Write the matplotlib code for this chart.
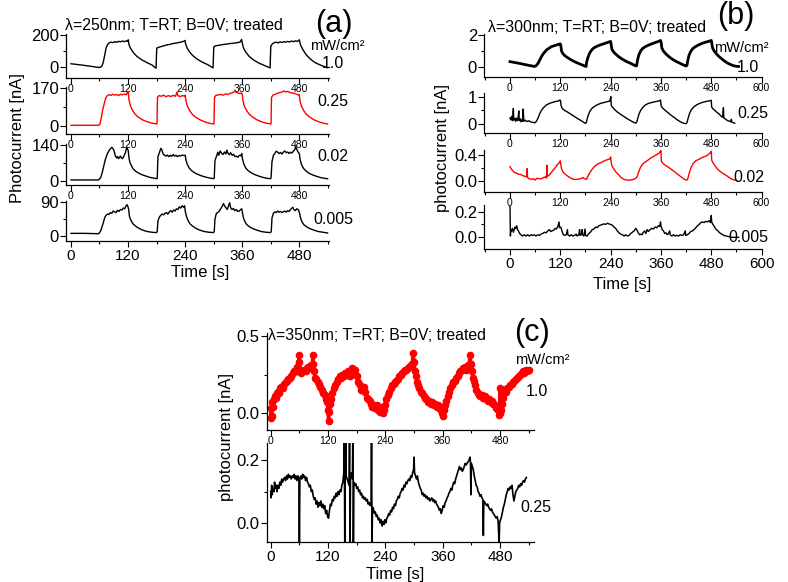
import matplotlib
matplotlib.use("Agg")
import matplotlib.pyplot as plt
from matplotlib.ticker import MultipleLocator, FormatStrFormatter

plt.rcParams["font.family"] = ["Liberation Sans", "DejaVu Sans"]

W, H = 788, 582
RED = "#ff0000"

# (time [s], photocurrent) samples, one list per intensity
A_250_1p0 = [(0, 20), (20, 13), (40, 5), (58, -3), (62, -2), (65, 5), (68, 30), (71, 75), (74, 120), (77, 140),
             (80, 150), (84, 155), (88, 152), (92, 158), (96, 154), (100, 160), (104, 157), (108, 162), (112, 158),
             (116, 163), (119, 160), (120.5, 170), (122, 140), (125, 118), (130, 95), (135, 77), (140, 63),
             (150, 43), (160, 27), (170, 13), (179, -8), (180.5, 118), (184, 122), (190, 128), (196, 133),
             (202, 138), (208, 141), (214, 146), (220, 149), (226, 152), (232, 156), (237, 160), (240, 166),
             (241.5, 140), (245, 115), (250, 92), (256, 72), (264, 52), (275, 32), (288, 14), (299, -6),
             (300.5, 125), (304, 132), (310, 135), (316, 138), (322, 141), (328, 143), (334, 146), (340, 148),
             (346, 150), (352, 153), (356, 156), (359, 172), (360.5, 150), (363, 118), (368, 92), (375, 66),
             (385, 42), (395, 25), (408, 8), (419, -6), (420.5, 130), (424, 145), (428, 152), (432, 155),
             (436, 150), (440, 157), (444, 153), (448, 158), (452, 155), (456, 160), (460, 156), (464, 162),
             (468, 158), (472, 163), (476, 160), (479, 165), (480.5, 170), (483, 138), (488, 108), (495, 76),
             (505, 46), (515, 25), (528, 8), (540, -5)]

A_250_0p25 = [(0, 3), (30, 3), (58, 3), (61, 8), (64, 40), (67, 75), (70, 100), (73, 125), (76, 135), (80, 140),
              (84, 137), (88, 142), (92, 138), (96, 141), (100, 136), (104, 142), (108, 139), (112, 143),
              (116, 140), (119, 150), (120.5, 152), (122, 118), (125, 90), (130, 68), (135, 53), (140, 42),
              (150, 28), (160, 19), (170, 13), (180, 9), (181, 10), (182, 128), (185, 136), (190, 133),
              (195, 138), (200, 131), (205, 136), (210, 132), (215, 137), (220, 133), (223, 152), (225, 135),
              (230, 132), (235, 136), (239, 133), (240.5, 138), (242, 112), (245, 88), (250, 68), (255, 53),
              (262, 40), (272, 27), (282, 18), (292, 12), (300, 9), (301, 10), (302, 128), (305, 137), (310, 139),
              (315, 141), (320, 138), (325, 143), (330, 141), (335, 146), (340, 149), (345, 156), (348, 150),
              (352, 147), (356, 145), (359, 148), (360.5, 140), (362, 112), (365, 88), (370, 68), (375, 53),
              (382, 40), (392, 27), (402, 18), (412, 12), (420, 9), (421, 10), (422, 128), (425, 138), (430, 142),
              (435, 147), (440, 150), (445, 153), (448, 157), (452, 152), (456, 155), (460, 150), (465, 148),
              (470, 146), (475, 142), (479, 139), (480.5, 140), (482, 112), (485, 88), (490, 68), (495, 53),
              (502, 40), (512, 27), (522, 18), (532, 12), (540, 9)]

A_250_0p02 = [(0, 4), (30, 4), (58, 4), (62, 12), (65, 27), (68, 50), (70, 67), (72, 82), (74, 93), (77, 108),
              (80, 118), (83, 126), (86, 131), (88, 127), (90, 120), (92, 108), (94, 95), (96, 90), (98, 95),
              (100, 87), (102, 92), (104, 97), (106, 90), (108, 87), (110, 92), (112, 100), (114, 108), (116, 122),
              (117.5, 131), (119, 125), (120.5, 118), (122, 90), (124, 73), (127, 60), (131, 47), (136, 38),
              (142, 31), (150, 24), (158, 19), (166, 14), (174, 11), (180, 9), (181.5, 10), (183, 95), (186, 110),
              (189, 127), (191, 122), (194, 105), (197, 100), (200, 97), (203, 101), (206, 95), (209, 100),
              (212, 96), (215, 103), (218, 97), (221, 100), (224, 95), (227, 99), (230, 97), (234, 101), (238, 99),
              (240.5, 100), (242, 80), (245, 64), (249, 50), (254, 40), (261, 31), (269, 24), (278, 18), (288, 13),
              (296, 10), (300, 9), (301.5, 12), (303, 80), (306, 95), (309, 112), (311, 100), (314, 117),
              (317, 108), (320, 103), (323, 113), (326, 105), (328, 120), (330, 110), (333, 102), (336, 110),
              (339, 100), (342, 104), (345, 95), (348, 97), (351, 92), (354, 100), (357, 98), (359.5, 107),
              (361, 85), (364, 65), (368, 50), (373, 40), (380, 31), (388, 24), (397, 18), (406, 13), (414, 10),
              (420, 9), (421, 12), (423, 75), (426, 100), (429, 107), (432, 116), (435, 112), (438, 107),
              (441, 111), (444, 105), (447, 113), (450, 117), (453, 110), (456, 113), (459, 107), (462, 112),
              (465, 109), (468, 116), (471, 122), (473, 133), (475, 125), (477, 115), (479, 110), (480.5, 107),
              (482, 85), (485, 65), (489, 50), (494, 40), (500, 31), (508, 24), (517, 18), (526, 13), (535, 10),
              (540, 9)]

A_250_0p005 = [(0, 7), (30, 7), (58, 6), (62, 12), (65, 23), (68, 35), (71, 49), (74, 55), (77, 58), (80, 57),
               (83, 62), (86, 60), (89, 66), (92, 64), (95, 62), (98, 68), (101, 65), (104, 70), (107, 69),
               (110, 74), (113, 72), (116, 80), (118, 83), (120, 77), (121.5, 70), (123, 52), (126, 42), (130, 33),
               (135, 27), (142, 21), (150, 16), (160, 12), (170, 10), (180, 9), (181.5, 12), (183, 40), (186, 50),
               (189, 55), (192, 58), (195, 56), (198, 60), (201, 62), (204, 58), (207, 64), (210, 67), (213, 63),
               (216, 69), (219, 66), (222, 72), (225, 70), (228, 77), (231, 74), (234, 80), (237, 76), (239, 80),
               (241, 62), (243, 52), (246, 42), (250, 33), (255, 27), (262, 21), (270, 16), (280, 12), (290, 10),
               (300, 9), (301.5, 12), (303, 45), (306, 60), (309, 62), (312, 66), (315, 72), (318, 78), (321, 86),
               (323, 80), (326, 75), (329, 70), (332, 82), (334, 88), (336, 75), (339, 70), (342, 73), (345, 67),
               (348, 70), (351, 65), (354, 66), (357, 70), (359.5, 72), (361, 60), (363, 48), (366, 38), (370, 30),
               (375, 25), (382, 20), (390, 16), (400, 12), (410, 10), (420, 9), (421.5, 12), (423, 48), (426, 60),
               (429, 64), (432, 62), (435, 66), (438, 63), (441, 65), (444, 62), (447, 64), (450, 66), (453, 63),
               (456, 67), (459, 65), (462, 70), (465, 74), (467, 76), (469, 70), (472, 67), (475, 72), (478, 70),
               (480, 65), (481.5, 58), (483, 48), (486, 38), (490, 30), (495, 25), (502, 20), (510, 16), (520, 12),
               (530, 10), (540, 8)]

B_300_1p0 = [(0, 0.35), (15, 0.28), (30, 0.20), (45, 0.12), (59, 0.05), (63, 0.12), (67, 0.25), (71, 0.45),
             (75, 0.66), (80, 0.86), (87, 1.07), (93, 1.18), (99, 1.28), (105, 1.33), (111, 1.38), (117, 1.43),
             (120, 1.45), (121, 1.38), (123, 1.0), (126, 0.85), (130, 0.74), (135, 0.64), (142, 0.52), (150, 0.40),
             (158, 0.30), (166, 0.21), (173, 0.14), (180, 0.06), (181.5, 0.05), (183, 0.35), (186, 0.62),
             (190, 0.88), (195, 1.08), (201, 1.22), (209, 1.32), (217, 1.40), (225, 1.47), (233, 1.54),
             (240, 1.60), (241, 1.45), (243, 1.12), (247, 0.95), (252, 0.82), (258, 0.68), (265, 0.55),
             (272, 0.44), (280, 0.33), (288, 0.24), (295, 0.15), (300, 0.08), (302, 0.10), (304, 0.42),
             (307, 0.75), (311, 0.98), (316, 1.16), (323, 1.28), (331, 1.38), (339, 1.46), (347, 1.54),
             (354, 1.60), (359, 1.66), (360.5, 1.55), (362, 1.20), (366, 1.00), (371, 0.85), (377, 0.70),
             (384, 0.56), (391, 0.44), (398, 0.34), (406, 0.24), (413, 0.15), (420, 0.08), (422, 0.12),
             (424, 0.42), (427, 0.75), (431, 0.98), (436, 1.16), (443, 1.29), (450, 1.39), (458, 1.48),
             (466, 1.55), (473, 1.60), (480, 1.66), (481, 1.55), (483, 1.20), (487, 1.00), (492, 0.84),
             (498, 0.68), (505, 0.52), (512, 0.38), (519, 0.26), (526, 0.17), (533, 0.10), (540, 0.06),
             (545, 0.05)]

B_300_0p25 = [(0, 0.22), (2, 0.15), (4, 0.28), (6, 0.12), (8, 0.57), (9, 0.15), (11, 0.20), (13, 0.10),
              (15, 0.22), (17, 0.12), (19, 0.18), (21, 0.48), (22, 0.12), (24, 0.20), (26, 0.08), (28, 0.16),
              (30, 0.10), (31.5, 0.55), (33, 0.10), (36, 0.14), (40, 0.09), (45, 0.12), (50, 0.07), (55, 0.06),
              (59, 0.04), (63, 0.10), (67, 0.22), (71, 0.38), (75, 0.50), (80, 0.60), (87, 0.70), (95, 0.76),
              (103, 0.80), (110, 0.83), (116, 0.84), (119, 0.88), (120.5, 0.86), (122, 0.66), (125, 0.56),
              (130, 0.50), (138, 0.43), (146, 0.35), (154, 0.27), (162, 0.19), (170, 0.12), (176, 0.06),
              (180, 0.02), (182, 0.05), (184, 0.18), (187, 0.34), (191, 0.48), (196, 0.58), (201, 0.64),
              (209, 0.71), (217, 0.76), (225, 0.79), (233, 0.82), (238, 0.84), (240.5, 1.0), (241.5, 0.68),
              (244, 0.62), (250, 0.52), (256, 0.44), (264, 0.35), (272, 0.27), (280, 0.19), (288, 0.12),
              (295, 0.06), (300, 0.03), (302, 0.06), (305, 0.22), (308, 0.38), (312, 0.51), (317, 0.61),
              (323, 0.70), (331, 0.76), (339, 0.79), (347, 0.82), (355, 0.84), (359, 0.88), (360.5, 0.66),
              (363, 0.60), (370, 0.50), (378, 0.40), (386, 0.30), (394, 0.21), (402, 0.12), (410, 0.05),
              (416, 0.02), (420, 0.01), (422, 0.05), (425, 0.22), (428, 0.38), (432, 0.51), (438, 0.62),
              (445, 0.70), (453, 0.76), (461, 0.80), (469, 0.83), (477, 0.85), (480, 0.87), (481, 0.62),
              (484, 0.56), (489, 0.49), (494, 0.42), (499, 0.36), (504, 0.28), (507, 0.25), (509, 0.60),
              (510, 0.22), (514, 0.18), (518, 0.13), (522, 0.11), (526, 0.08), (528, 0.17), (529, 0.07),
              (532, 0.05), (536, 0.03)]

B_300_0p02 = [(0, 0.22), (3, 0.18), (6, 0.16), (10, 0.13), (15, 0.12), (20, 0.10), (25, 0.10), (30, 0.08),
              (35, 0.07), (40, 0.06), (41, 0.19), (42, 0.05), (46, 0.03), (51, 0.02), (56, 0.03), (60, 0.01),
              (65, 0.04), (70, 0.03), (75, 0.03), (80, 0.05), (85, 0.06), (87, 0.04), (88, 0.24), (89, 0.07),
              (92, 0.08), (95, 0.10), (100, 0.14), (105, 0.18), (110, 0.22), (114, 0.26), (118, 0.28), (120, 0.31),
              (121, 0.26), (123, 0.18), (127, 0.13), (132, 0.10), (138, 0.07), (145, 0.04), (152, 0.02),
              (160, 0.02), (168, 0.03), (174, 0.05), (178, 0.03), (182, 0.02), (186, 0.07), (190, 0.12),
              (195, 0.17), (201, 0.22), (209, 0.26), (217, 0.28), (225, 0.31), (233, 0.33), (238, 0.34),
              (240, 0.37), (241, 0.30), (243, 0.23), (247, 0.19), (252, 0.14), (258, 0.10), (265, 0.05),
              (272, 0.02), (280, 0.01), (288, 0.01), (295, 0.02), (300, 0.04), (303, 0.06), (306, 0.12),
              (310, 0.19), (315, 0.25), (320, 0.28), (327, 0.31), (335, 0.35), (343, 0.38), (351, 0.41),
              (356, 0.43), (359, 0.46), (360, 0.47), (361, 0.30), (365, 0.27), (370, 0.24), (378, 0.21),
              (386, 0.17), (394, 0.13), (402, 0.09), (410, 0.05), (416, 0.02), (422, 0.01), (424, 0.03),
              (428, 0.13), (432, 0.21), (437, 0.27), (443, 0.31), (450, 0.33), (458, 0.36), (466, 0.38),
              (472, 0.40), (477, 0.43), (480, 0.46), (481, 0.32), (484, 0.28), (489, 0.23), (495, 0.18),
              (502, 0.14), (509, 0.11), (516, 0.08), (523, 0.05), (530, 0.02), (537, 0.01), (542, 0.0)]

B_300_0p005 = [(0, 0.24), (1, 0.01), (2, 0.06), (4, 0.05), (6, 0.07), (8, 0.04), (10, 0.06), (12, 0.08),
               (14, 0.07), (16, 0.09), (18, 0.06), (20, 0.05), (23, 0.03), (26, 0.02), (30, 0.01), (34, 0.02),
               (38, 0.01), (42, 0.02), (46, 0.01), (50, 0.02), (54, 0.015), (58, 0.02), (62, 0.01), (66, 0.02),
               (70, 0.015), (74, 0.025), (78, 0.03), (82, 0.04), (86, 0.035), (90, 0.05), (94, 0.06), (97, 0.045),
               (100, 0.05), (104, 0.055), (108, 0.07), (111, 0.065), (114, 0.085), (117, 0.12), (118, 0.075),
               (121, 0.08), (124, 0.05), (127, 0.02), (130, 0.015), (134, 0.02), (137, 0.06), (138, 0.02),
               (142, 0.01), (146, 0.02), (150, 0.01), (154, 0.015), (158, 0.025), (160, 0.01), (164, 0.02),
               (166, 0.06), (167, 0.015), (170, 0.02), (172, 0.06), (173, 0.02), (176, 0.01), (179, 0.065),
               (180, 0.015), (184, 0.01), (188, 0.03), (192, 0.04), (196, 0.06), (200, 0.065), (204, 0.08),
               (208, 0.075), (212, 0.09), (216, 0.095), (220, 0.1), (224, 0.105), (228, 0.1), (232, 0.11),
               (236, 0.105), (240, 0.1), (244, 0.095), (248, 0.08), (252, 0.07), (256, 0.05), (260, 0.035),
               (264, 0.025), (268, 0.02), (272, 0.01), (276, 0.02), (280, 0.01), (284, 0.015), (288, 0.03),
               (292, 0.04), (296, 0.05), (300, 0.07), (303, 0.055), (306, 0.035), (309, 0.02), (312, 0.025),
               (315, 0.02), (318, 0.04), (321, 0.05), (324, 0.03), (327, 0.06), (330, 0.045), (334, 0.06),
               (338, 0.07), (342, 0.065), (346, 0.08), (350, 0.075), (354, 0.09), (357, 0.085), (359, 0.12),
               (360, 0.09), (363, 0.06), (366, 0.05), (369, 0.03), (372, 0.035), (375, 0.02), (378, 0.03),
               (381, 0.05), (382, 0.02), (386, 0.01), (390, 0.02), (394, 0.01), (398, 0.015), (402, 0.01),
               (406, 0.02), (410, 0.015), (414, 0.02), (418, 0.05), (419, 0.015), (423, 0.02), (427, 0.03),
               (431, 0.045), (435, 0.05), (439, 0.06), (443, 0.075), (447, 0.09), (451, 0.1), (455, 0.115),
               (459, 0.12), (463, 0.115), (467, 0.125), (471, 0.12), (475, 0.13), (478, 0.115), (480, 0.17),
               (481, 0.12), (484, 0.1), (488, 0.08), (492, 0.06), (496, 0.05), (500, 0.035), (505, 0.025),
               (510, 0.015), (516, 0.01), (522, 0.005), (530, 0.0), (538, 0.0), (545, 0.0)]

C_350_1p0 = [(0, -0.03), (1, 0.03), (2, -0.02), (3, 0.07), (5, 0.04), (7, 0.09), (9, 0.11), (11, 0.10), (13, 0.13),
             (15, 0.14), (17, 0.13), (19, 0.16), (22, 0.17), (25, 0.16), (28, 0.19), (31, 0.20), (34, 0.21),
             (37, 0.22), (40, 0.23), (43, 0.24), (46, 0.26), (49, 0.27), (52, 0.28), (54, 0.27), (56, 0.30),
             (58, 0.29), (59, 0.38), (60, 0.33), (62, 0.28), (64, 0.26), (67, 0.27), (70, 0.28), (73, 0.27),
             (76, 0.29), (79, 0.30), (82, 0.29), (85, 0.31), (87, 0.30), (88, 0.38), (89, 0.32), (91, 0.27),
             (93, 0.23), (95, 0.22), (98, 0.20), (101, 0.19), (104, 0.17), (107, 0.15), (110, 0.13), (113, 0.12),
             (116, 0.09), (118, 0.07), (120, 0.02), (121, -0.05), (122, 0.01), (124, 0.06), (126, 0.09),
             (129, 0.13), (132, 0.16), (135, 0.18), (138, 0.20), (141, 0.22), (144, 0.24), (147, 0.23),
             (150, 0.25), (153, 0.24), (156, 0.26), (159, 0.25), (162, 0.27), (165, 0.24), (168, 0.27),
             (171, 0.29), (174, 0.26), (177, 0.28), (180, 0.24), (183, 0.20), (186, 0.18), (189, 0.15),
             (192, 0.16), (195, 0.17), (198, 0.14), (201, 0.10), (204, 0.09), (207, 0.08), (210, 0.06),
             (213, 0.04), (216, 0.05), (219, 0.03), (222, 0.05), (225, 0.02), (228, 0.01), (231, 0.03),
             (234, 0.00), (236, 0.04), (238, 0.02), (240, 0.05), (242, 0.09), (245, 0.12), (248, 0.14),
             (251, 0.16), (254, 0.18), (257, 0.19), (260, 0.20), (263, 0.21), (266, 0.22), (269, 0.24),
             (272, 0.25), (275, 0.26), (278, 0.27), (281, 0.28), (284, 0.28), (287, 0.29), (290, 0.30),
             (293, 0.31), (296, 0.32), (298, 0.39), (300, 0.33), (302, 0.27), (304, 0.24), (306, 0.20),
             (308, 0.18), (311, 0.16), (314, 0.14), (317, 0.13), (320, 0.11), (323, 0.10), (326, 0.09),
             (329, 0.07), (332, 0.08), (335, 0.06), (338, 0.07), (341, 0.05), (344, 0.06), (347, 0.04),
             (350, 0.05), (353, 0.03), (356, 0.02), (358, 0.00), (360, -0.02), (362, 0.02), (364, 0.05),
             (367, 0.08), (370, 0.11), (373, 0.14), (376, 0.16), (379, 0.18), (382, 0.20), (385, 0.21),
             (388, 0.23), (391, 0.24), (394, 0.26), (397, 0.27), (400, 0.28), (403, 0.29), (406, 0.30),
             (409, 0.28), (412, 0.31), (415, 0.30), (417, 0.38), (419, 0.32), (421, 0.27), (423, 0.23),
             (425, 0.21), (427, 0.18), (430, 0.15), (433, 0.13), (436, 0.12), (439, 0.11), (442, 0.12),
             (445, 0.10), (448, 0.11), (451, 0.09), (454, 0.08), (457, 0.09), (460, 0.07), (463, 0.08),
             (466, 0.06), (469, 0.05), (472, 0.03), (475, 0.02), (477, -0.01), (479, 0.00), (480, 0.16),
             (481, 0.02), (483, 0.06), (486, 0.10), (489, 0.13), (492, 0.14), (495, 0.16), (498, 0.17),
             (501, 0.18), (504, 0.19), (507, 0.20), (510, 0.21), (513, 0.22), (516, 0.23), (519, 0.24),
             (522, 0.25), (525, 0.26), (528, 0.27), (531, 0.26), (534, 0.28), (537, 0.27), (540, 0.28)]

C_350_0p25 = [(0, 0.10), (1, 0.08), (2, 0.12), (3, 0.09), (5, 0.11), (7, 0.10), (8, 0.13), (10, 0.11), (12, 0.12),
              (13, 0.10), (15, 0.12), (17, 0.11), (19, 0.13), (21, 0.12), (23, 0.14), (25, 0.13), (27, 0.14),
              (29, 0.145), (31, 0.135), (33, 0.15), (35, 0.14), (37, 0.155), (39, 0.145), (41, 0.15), (43, 0.14),
              (45, 0.15), (47, 0.145), (49, 0.155), (51, 0.14), (53, 0.15), (55, 0.135), (57, 0.15), (59, 0.14),
              (60, -0.07), (61, 0.14), (63, 0.15), (65, 0.14), (67, 0.155), (69, 0.145), (71, 0.15), (73, 0.135),
              (75, 0.145), (77, 0.13), (79, 0.125), (81, 0.115), (83, 0.12), (85, 0.10), (87, 0.105), (89, 0.085),
              (91, 0.075), (93, 0.08), (95, 0.06), (97, 0.07), (99, 0.05), (101, 0.065), (103, 0.055), (105, 0.07),
              (107, 0.05), (109, 0.06), (111, 0.045), (113, 0.055), (115, 0.03), (117, 0.04), (119, 0.02),
              (121, 0.015), (123, 0.04), (125, 0.06), (127, 0.055), (129, 0.075), (131, 0.07), (133, 0.085),
              (135, 0.08), (137, 0.095), (139, 0.085), (141, 0.10), (143, 0.09), (145, 0.105), (147, 0.10),
              (149, 0.12), (151, 0.13), (153, 0.16), (154, 0.30), (155, -0.07), (156, 0.19), (157, 0.30),
              (158, 0.15), (160, 0.14), (162, 0.13), (164, 0.12), (165, 0.30), (166, -0.07), (167, 0.15),
              (169, 0.16), (171, 0.14), (172, 0.30), (173, -0.07), (174, 0.13), (176, 0.12), (178, 0.125),
              (180, 0.11), (182, 0.115), (184, 0.10), (186, 0.105), (188, 0.09), (190, 0.095), (192, 0.08),
              (194, 0.085), (196, 0.075), (198, 0.08), (200, 0.07), (202, 0.075), (204, 0.06), (206, 0.065),
              (208, 0.055), (210, 0.06), (211, 0.30), (212, -0.07), (213, 0.05), (215, 0.045), (217, 0.03),
              (219, 0.035), (221, 0.02), (223, 0.025), (225, 0.01), (227, 0.015), (229, 0.0), (231, 0.01),
              (233, -0.01), (235, 0.005), (237, -0.005), (239, 0.01), (241, 0.0), (243, 0.015), (245, 0.02),
              (247, 0.03), (249, 0.025), (251, 0.04), (253, 0.035), (255, 0.05), (257, 0.045), (259, 0.06),
              (261, 0.055), (263, 0.07), (265, 0.075), (267, 0.085), (269, 0.08), (271, 0.095), (273, 0.10),
              (275, 0.11), (277, 0.105), (279, 0.12), (281, 0.115), (283, 0.13), (285, 0.125), (287, 0.135),
              (289, 0.14), (291, 0.135), (293, 0.15), (295, 0.145), (297, 0.16), (299, 0.17), (300, 0.21),
              (301, 0.16), (303, 0.15), (305, 0.14), (307, 0.15), (309, 0.13), (311, 0.12), (313, 0.11),
              (315, 0.105), (317, 0.09), (319, 0.095), (321, 0.085), (323, 0.09), (325, 0.08), (327, 0.085),
              (329, 0.075), (331, 0.08), (333, 0.07), (335, 0.075), (337, 0.08), (339, 0.07), (341, 0.075),
              (343, 0.065), (345, 0.07), (347, 0.06), (349, 0.055), (351, 0.05), (353, 0.04), (355, 0.045),
              (357, 0.03), (359, 0.04), (361, 0.055), (363, 0.05), (365, 0.065), (367, 0.07), (369, 0.08),
              (371, 0.085), (373, 0.095), (375, 0.10), (377, 0.11), (379, 0.105), (381, 0.12), (383, 0.13),
              (385, 0.125), (387, 0.14), (389, 0.15), (391, 0.16), (393, 0.17), (395, 0.18), (397, 0.17),
              (399, 0.175), (401, 0.165), (403, 0.17), (405, 0.18), (407, 0.19), (409, 0.185), (411, 0.19),
              (413, 0.195), (415, 0.2), (417, 0.21), (418, 0.195), (419, 0.09), (420, 0.19), (422, 0.18),
              (424, 0.17), (426, 0.15), (428, 0.135), (430, 0.12), (432, 0.115), (434, 0.10), (436, 0.095),
              (438, 0.085), (440, 0.09), (442, 0.08), (444, 0.075), (445, -0.04), (446, 0.07), (448, 0.065),
              (450, 0.06), (452, 0.055), (454, 0.06), (456, 0.05), (458, 0.045), (460, 0.04), (462, 0.045),
              (464, 0.035), (466, 0.03), (468, 0.025), (470, 0.02), (472, 0.015), (474, 0.02), (476, 0.005),
              (478, -0.07), (479, 0.0), (481, 0.01), (483, 0.02), (485, 0.035), (487, 0.05), (489, 0.06),
              (491, 0.075), (493, 0.09), (495, 0.10), (497, 0.11), (499, 0.105), (501, 0.115), (503, 0.11),
              (505, 0.12), (507, 0.09), (509, 0.07), (511, 0.085), (513, 0.10), (515, 0.105), (517, 0.11),
              (519, 0.12), (521, 0.115), (523, 0.125), (525, 0.12), (527, 0.13), (529, 0.135), (531, 0.13),
              (533, 0.14), (535, 0.145)]


def px_axes(fig, x0, x1, y0, y1):
    # place an axes by its pixel box (top-left origin)
    return fig.add_axes([x0 / W, 1 - y1 / H, (x1 - x0) / W, (y1 - y0) / H])


def px_text(fig, x, y, s, size, ha="center", **kw):
    fig.text(x / W, 1 - y / H, s, ha=ha, va="center", fontsize=size, **kw)


def style_axis(ax, xlim, ylim, ystep, yfmt, bottom=False):
    ax.set_xlim(*xlim)
    ax.set_ylim(*ylim)
    ax.patch.set_alpha(0)
    for side in ("top", "right"):
        ax.spines[side].set_visible(False)
    for side in ("left", "bottom"):
        ax.spines[side].set_linewidth(0.9)
    ax.xaxis.set_major_locator(MultipleLocator(120))
    ax.xaxis.set_minor_locator(MultipleLocator(60))
    ax.yaxis.set_major_locator(MultipleLocator(ystep))
    ax.yaxis.set_minor_locator(MultipleLocator(ystep / 2))
    ax.yaxis.set_major_formatter(FormatStrFormatter(yfmt))
    ax.tick_params(which="major", direction="out", length=4, width=0.8)
    ax.tick_params(which="minor", direction="out", length=2.5, width=0.8)
    ax.tick_params(axis="y", labelsize=12, pad=1)
    if bottom:
        ax.tick_params(axis="x", labelsize=11, pad=2)
    else:
        ax.tick_params(axis="x", labelsize=7.5, pad=0.5)


def trace(ax, data, color="black", lw=1.0, **kw):
    t, v = zip(*data)
    ax.plot(t, v, color=color, lw=lw, **kw)


fig = plt.figure(figsize=(W / 100, H / 100), dpi=100, facecolor="white")

# ---- (a) 250 nm ----
xa = (-10.5, 543)
panel_a = [
    (A_250_1p0, "black", (34, 78), (-69, 206), 200, "%d", "1.0", 64),
    (A_250_0p25, RED, (87, 134), (-36, 174.5), 170, "%d", "0.25", 102),
    (A_250_0p02, "black", (144, 185), (-15.6, 144), 140, "%d", "0.02", 157),
    (A_250_0p005, "black", (201, 241), (-13.2, 92.6), 90, "%d", "0.005", 219),
]
for i, (data, color, (y0, y1), ylim, step, fmt, lab, ly) in enumerate(panel_a):
    ax = px_axes(fig, 66, 329, y0, y1)
    trace(ax, data, color)
    style_axis(ax, xa, ylim, step, fmt, bottom=(i == len(panel_a) - 1))
    px_text(fig, 333, ly, lab, 11.5)

px_text(fig, 65, 25, "λ=250nm; T=RT; B=0V; treated", 11.4, ha="left")
px_text(fig, 334, 24, "(a)", 22)
px_text(fig, 337, 46, "mW/cm²", 10.5)
px_text(fig, 18, 138, "Photocurrent [nA]", 12, rotation=90)
px_text(fig, 200, 273, "Time [s]", 12)

# ---- (b) 300 nm ----
xb = (-62, 601)
panel_b = [
    (B_300_1p0, "black", 2.0, (34, 77), (-0.6, 2.06), 2, "%d", "1.0", 748, 68),
    (B_300_0p25, "black", 1.0, (93, 133), (-0.33, 1.135), 1, "%d", "0.25", 753, 113),
    (B_300_0p02, RED, 1.0, (150, 192), (-0.176, 0.478), 0.4, "%.1f", "0.02", 749, 178),
    (B_300_0p005, "black", 1.0, (205, 249), (-0.091, 0.252), 0.2, "%.1f", "0.005", 748, 238),
]
for i, (data, color, lw, (y0, y1), ylim, step, fmt, lab, lx, ly) in enumerate(panel_b):
    ax = px_axes(fig, 484, 762, y0, y1)
    trace(ax, data, color, lw)
    style_axis(ax, xb, ylim, step, fmt, bottom=(i == len(panel_b) - 1))
    px_text(fig, lx, ly, lab, 11.5)

px_text(fig, 488, 28, "λ=300nm; T=RT; B=0V; treated", 11.4, ha="left")
px_text(fig, 736, 16, "(b)", 22)
px_text(fig, 741, 48, "mW/cm²", 10.5)
px_text(fig, 443, 148, "photocurrent [nA]", 12, rotation=90)
px_text(fig, 622, 285, "Time [s]", 12)

# ---- (c) 350 nm ----
xc = (-8.4, 551)
ax = px_axes(fig, 266.7, 534, 333, 430)
trace(ax, C_350_1p0, RED, 2.5, marker="o", ms=4.5, mec=RED)
style_axis(ax, xc, (-0.11, 0.52), 0.5, "%.1f")
px_text(fig, 537, 392, "1.0", 11.5)

ax = px_axes(fig, 266.7, 534, 443, 542)
trace(ax, C_350_0p25, "black", 1.2)
style_axis(ax, xc, (-0.061, 0.255), 0.2, "%.1f", bottom=True)
px_text(fig, 536, 508, "0.25", 11.5)

px_text(fig, 268, 336, "λ=350nm; T=RT; B=0V; treated", 11.4, ha="left")
px_text(fig, 532, 333, "(c)", 22)
px_text(fig, 542, 360, "mW/cm²", 10.5)
px_text(fig, 227, 437, "photocurrent [nA]", 12, rotation=90)
px_text(fig, 395, 574, "Time [s]", 12)

fig.savefig("out.png", dpi=100, facecolor="white")
